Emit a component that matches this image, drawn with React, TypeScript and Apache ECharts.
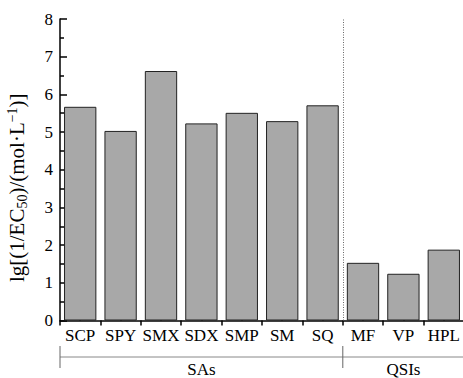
import React, { useEffect, useRef } from "react";
import * as echarts from "echarts";

const categories = ["SCP", "SPY", "SMX", "SDX", "SMP", "SM", "SQ", "MF", "VP", "HPL"];
const values = [5.67, 5.03, 6.62, 5.23, 5.51, 5.29, 5.71, 1.53, 1.24, 1.88];
const groupNames = ["SAs", "QSIs"];
const groupBounds = [0, 7, 10];
const yTicks = { min: 0, max: 8, interval: 1 };

const FONT = "'Liberation Serif', 'Times New Roman', Times, serif";

export default function App() {
  const ref = useRef<HTMLDivElement>(null);
  useEffect(() => {
    if (!ref.current) return;
    const chart = echarts.init(ref.current, null, { renderer: "svg" });
    const option: any = {
      animation: false,
      backgroundColor: "#ffffff",
      textStyle: { fontFamily: FONT },
      grid: { left: 60, top: 19, width: 404, bottom: 57.5, containLabel: false, outerBoundsMode: "none" },
      xAxis: [
        {
          type: "category",
          data: categories,
          position: "bottom",
          axisLine: { show: true, lineStyle: { color: "#000", width: 1.5 } },
          axisTick: { show: true, inside: false, length: 5, alignWithLabel: false, lineStyle: { color: "#000", width: 1.5 } },
          axisLabel: { show: true, color: "#000", fontSize: 17, fontFamily: FONT, margin: 6, interval: 0 },
          splitLine: { show: false },
        },
        {
          type: "category",
          data: categories,
          position: "bottom",
          axisLine: { show: false },
          axisTick: { show: true, inside: true, length: 5, alignWithLabel: true, lineStyle: { color: "#000", width: 1.5 } },
          axisLabel: { show: false },
          splitLine: { show: false },
        },
        {
          type: "value",
          min: groupBounds[0],
          max: groupBounds[groupBounds.length - 1],
          show: false,
        },
      ],
      yAxis: {
        type: "value",
        min: yTicks.min,
        max: yTicks.max,
        interval: yTicks.interval,
        name: "{a|lg[(1/EC}{sub|50}{a|)/(mol·L}{sup|−1}{a|)]}",
        nameLocation: "middle",
        nameRotate: 90,
        nameGap: 31,
        nameTextStyle: {
          fontFamily: FONT,
          color: "#000",
          padding: [0, 36, 0, 0],
          rich: {
            a: { fontSize: 21, fontFamily: FONT, color: "#000", lineHeight: 24 },
            sub: { fontSize: 14, fontFamily: FONT, color: "#000", lineHeight: 13, verticalAlign: "bottom" },
            sup: { fontSize: 14, fontFamily: FONT, color: "#000", lineHeight: 13, verticalAlign: "top" },
          },
        },
        axisLine: { show: true, lineStyle: { color: "#000", width: 1.5 } },
        axisTick: { show: true, inside: true, length: 7, lineStyle: { color: "#000", width: 1.5 } },
        minorTick: { show: true, splitNumber: 2, length: 4, lineStyle: { color: "#000", width: 1.5 } },
        axisLabel: { color: "#000", fontSize: 17, fontFamily: FONT, margin: 7 },
        splitLine: { show: false },
      },
      series: [
        {
          type: "bar",
          xAxisIndex: 0,
          data: values,
          barCategoryGap: "20%",
          itemStyle: { color: "#a8a8a8", borderColor: "#222", borderWidth: 1 },
        },
        {
          type: "line",
          xAxisIndex: 2,
          data: [],
          markLine: {
            silent: true,
            symbol: "none",
            label: { show: false },
            lineStyle: { color: "#666", type: [1, 1.5], width: 1 },
            data: [{ xAxis: groupBounds[1] }],
          },
        },
      ],
    };
    chart.setOption(option);

    const yLine = 357;
    const px = groupBounds.map((b) => chart.convertToPixel({ xAxisIndex: 2 }, b) as number);
    const graphics: any[] = [
      {
        type: "line",
        shape: { x1: px[0], y1: yLine, x2: px[px.length - 1], y2: yLine },
        style: { stroke: "#888", lineWidth: 1 },
      },
    ];
    px.forEach((x) => {
      graphics.push({
        type: "line",
        shape: { x1: x, y1: 346, x2: x, y2: 368 },
        style: { stroke: "#666", lineWidth: 1 },
      });
    });
    groupNames.forEach((n, i) => {
      graphics.push({
        type: "text",
        x: (px[i] + px[i + 1]) / 2,
        y: 369,
        style: { text: n, fontSize: 17, fontFamily: FONT, fill: "#000", align: "center", verticalAlign: "middle" },
      });
    });
    chart.setOption({ graphic: graphics });
    return () => chart.dispose();
  }, []);
  return <div ref={ref} style={{ width: 463, height: 378, position: "absolute", left: 0, top: 0 }} />;
}
